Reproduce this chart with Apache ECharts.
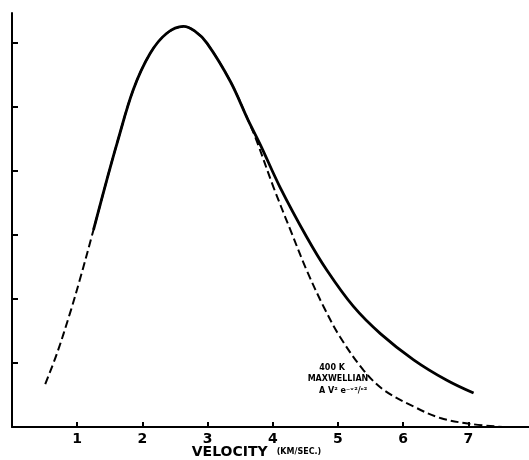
<!DOCTYPE html>
<html>
<head>
<meta charset="utf-8">
<script src="https://cdn.jsdelivr.net/npm/echarts@6/dist/echarts.min.js"></script>
<style>
  html, body { margin: 0; padding: 0; background: #fff; }
  #chart { width: 529px; height: 460px; }
</style>
</head>
<body>
<div id="chart"></div>
<script>
// velocity axis ticks (km/sec)
var xTicks = [1, 2, 3, 4, 5, 6, 7];
var yTicks = [1, 2, 3, 4, 5, 6];

// observed distribution (solid)
var observedV = [1.25, 1.47, 1.61, 1.86, 2.12, 2.37, 2.63, 2.80, 2.99, 3.35, 3.62, 3.81, 4.11, 4.52, 4.83, 5.24, 5.65, 6.16, 6.67, 7.08];
var observedY = [3.08, 3.92, 4.43, 5.27, 5.84, 6.15, 6.26, 6.19, 6.00, 5.40, 4.80, 4.41, 3.75, 2.97, 2.45, 1.88, 1.46, 1.05, 0.73, 0.53];

// 400 K maxwellian (dashed)
var maxwellV = [0.51, 0.69, 0.89, 1.04, 1.25, 1.47, 1.61, 1.86, 2.12, 2.37, 2.63, 2.80, 2.99, 3.35, 3.62, 3.75, 4.01, 4.27, 4.52, 4.78, 5.03, 5.39, 5.70, 6.16, 6.57, 7.02, 7.53];
var maxwellY = [0.67, 1.15, 1.78, 2.30, 3.08, 3.92, 4.43, 5.27, 5.84, 6.15, 6.26, 6.19, 6.00, 5.40, 4.80, 4.48, 3.75, 3.08, 2.45, 1.88, 1.41, 0.89, 0.58, 0.32, 0.14, 0.05, 0.00];

var noteLines = ['400 K', 'MAXWELLIAN', 'A V\u00b2 e\u207b\u1d5b\u00b2/\u1d9c\u00b2'];
var noteAt = [[4.91, 0.92], [5.00, 0.75], [5.08, 0.56]];

function pairs(xs, ys) {
	var out = [];
	for (var i = 0; i < xs.length; i++) {
		out.push([xs[i], ys[i]]);
	}
	return out;
}

var notePoints = [];
for (var i = 0; i < noteLines.length; i++) {
	notePoints.push({
		coord: noteAt[i],
		symbol: 'circle',
		symbolSize: 0,
		label: {
			show: true,
			position: 'inside',
			formatter: noteLines[i],
			color: '#000',
			fontFamily: 'DejaVu Sans',
			fontWeight: 'bold',
			fontSize: 8
		}
	});
}

var chart = echarts.init(document.getElementById('chart'));

var option = {
	animation: false,
	backgroundColor: '#fff',
	grid: { left: 12, right: 0, top: 13, bottom: 33, containLabel: false, outerBoundsMode: 'none' },
	xAxis: {
		type: 'value',
		min: 0,
		max: 7.93,
		splitLine: { show: false },
		axisLine: { onZero: false, lineStyle: { color: '#000', width: 2 } },
		axisTick: { inside: true, length: 5, customValues: xTicks, lineStyle: { color: '#000', width: 2 } },
		axisLabel: {
			customValues: xTicks,
			margin: 5,
			color: '#000',
			fontFamily: 'DejaVu Sans',
			fontWeight: 'bold',
			fontSize: 14
		},
		name: '{a|VELOCITY}{b|(KM/SEC.)}',
		nameLocation: 'middle',
		nameMoveOverlap: false,
		nameGap: 18,
		nameTextStyle: {
			padding: [0, 28, 0, 0],
			rich: {
				a: { fontFamily: 'DejaVu Sans', fontWeight: 'bold', fontSize: 14, color: '#000' },
				b: { fontFamily: 'DejaVu Sans', fontWeight: 'bold', fontSize: 8, color: '#000', padding: [0, 0, 0, 9] }
			}
		}
	},
	yAxis: {
		type: 'value',
		min: 0,
		max: 6.47,
		splitLine: { show: false },
		axisLine: { show: true, lineStyle: { color: '#000', width: 2 } },
		axisTick: { show: true, inside: true, length: 6, customValues: yTicks, lineStyle: { color: '#000', width: 2 } },
		axisLabel: { show: false }
	},
	series: [{
		name: 'maxwellian',
		type: 'line',
		data: pairs(maxwellV, maxwellY),
		smooth: 0.35,
		symbol: 'none',
		lineStyle: { color: '#000', width: 2, type: [8, 4] },
		markPoint: { data: notePoints }
	}, {
		name: 'observed',
		type: 'line',
		data: pairs(observedV, observedY),
		smooth: 0.35,
		symbol: 'none',
		lineStyle: { color: '#000', width: 2.8 }
	}]
};

chart.setOption(option);
</script>
</body>
</html>
